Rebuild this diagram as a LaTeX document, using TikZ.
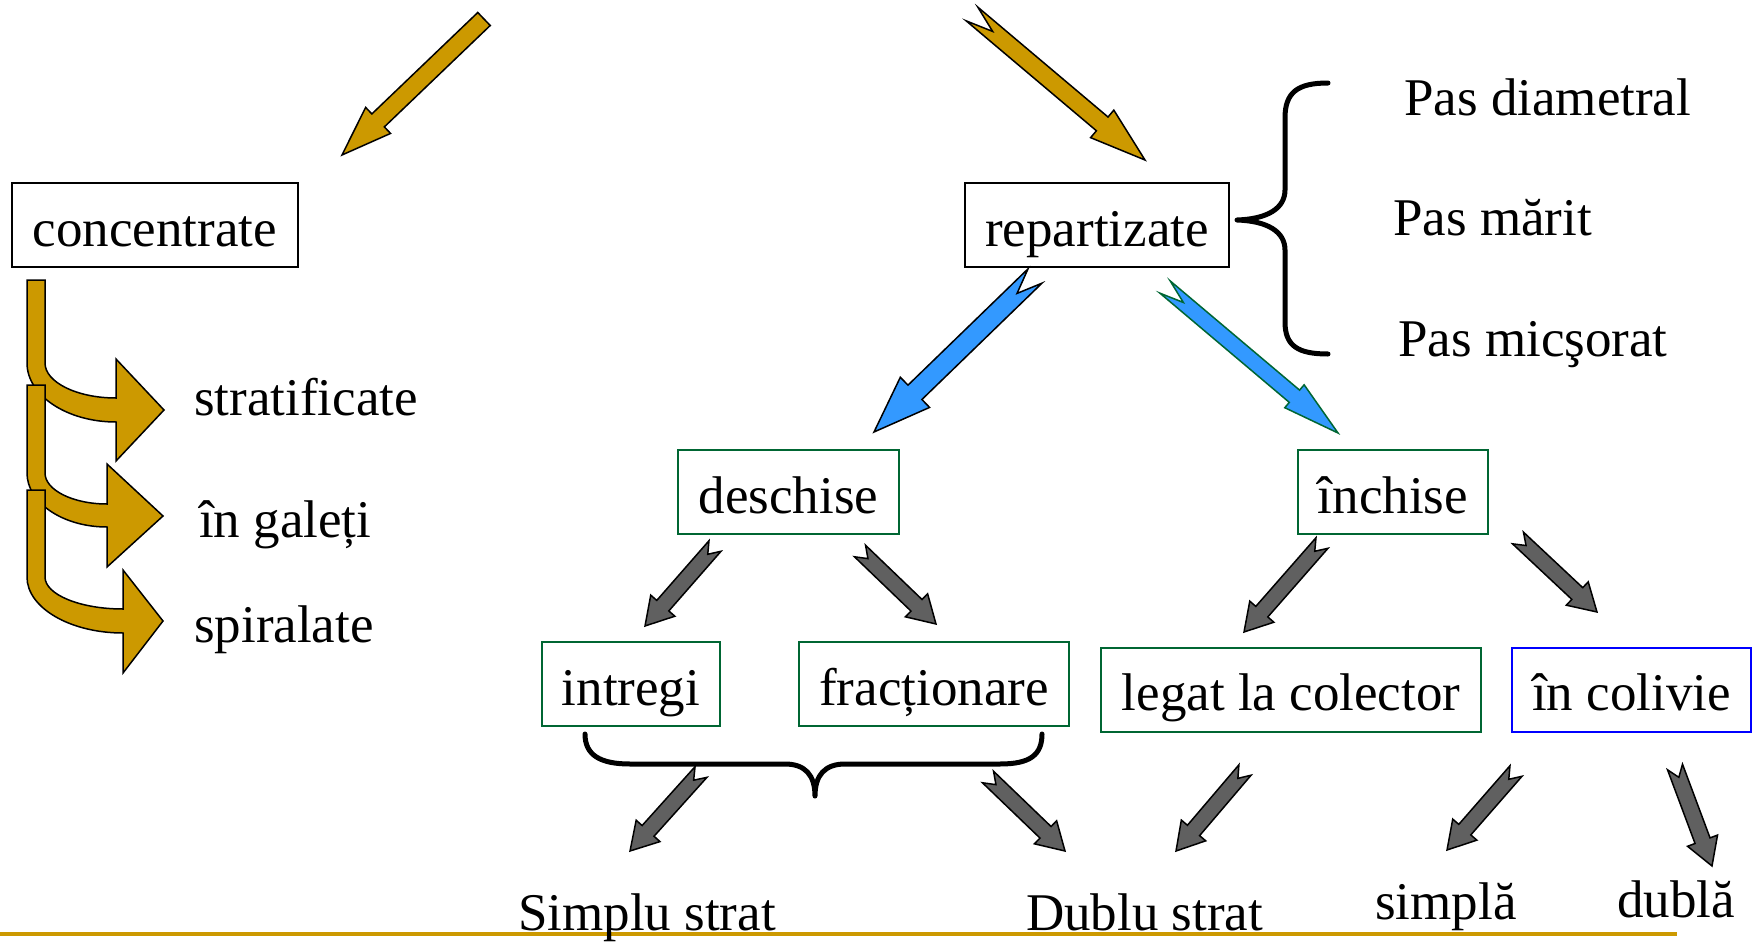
\documentclass[tikz,border=0pt]{standalone}
\usepackage{fontspec}
\setmainfont{Liberation Serif}
\usetikzlibrary{calc}
\definecolor{gold}{RGB}{204,153,0}
\definecolor{skyb}{RGB}{51,153,255}
\definecolor{darkg}{RGB}{96,96,96}
\definecolor{boxgreen}{RGB}{0,102,51}
\newcommand\barrow[3]{%
  \path let \p1=(#2), \p2=(#3), \n1={atan2(\y2-\y1,\x2-\x1)}, \n2={veclen(\x2-\x1,\y2-\y1)} in
    \pgfextra{\xdef\baang{\n1}\xdef\balen{\n2}\xdef\bax{\x1}\xdef\bay{\y1}};
  \begin{scope}[shift={(\bax,\bay)}, rotate=\baang]
    \draw[#1] (0,\baw) -- ({\balen-\bahl},\baw) -- ({\balen-\bahl},\bahw) -- (\balen,0)
      -- ({\balen-\bahl},-\bahw) -- ({\balen-\bahl},-\baw) -- (0,-\baw) -- (\ban,0) -- cycle;
  \end{scope}}
\newcommand\curvarrow[9]{%
  \draw[goldarrow] (27,#1) -- (45,#1) -- (45,#2)
    .. controls (45,{#2+0.55*(#3-#2)}) and ({#5-0.55*(#5-45)},#3) .. (#5,#3)
    -- (#5,#6) -- (#8,#9) -- (#5,#7) -- (#5,#4)
    .. controls ({#5-0.55*(#5-27)},#4) and (27,{#2+0.55*(#4-#2)}) .. (27,#2) -- cycle;}
\begin{document}
\begin{tikzpicture}[x=1pt,y=-1pt,
  bigfont/.style={font=\fontsize{53}{60}\selectfont},
  box/.style={draw, line width=2pt, inner sep=0pt, minimum height=84pt, text height=47pt, text depth=5pt, bigfont},
  gbox/.style={box, draw=boxgreen},
  lbl/.style={anchor=base west, inner sep=0pt, bigfont},
  goldarrow/.style={fill=gold, draw=black, line width=1.5pt, line join=miter},
  goldA/.style={goldarrow, /utils/exec={\def\baw{9}\def\bahw{18}\def\bahl{50}\def\ban{0}}},
  goldB/.style={goldarrow, /utils/exec={\def\baw{9}\def\bahw{18}\def\bahl{56}\def\ban{27}}},
  blueL/.style={fill=skyb, draw=black, line width=1.5pt, /utils/exec={\def\baw{10}\def\bahw{21}\def\bahl{57}\def\ban{25}}},
  blueR/.style={fill=skyb, draw=boxgreen, line width=1.5pt, /utils/exec={\def\baw{8}\def\bahw{15}\def\bahl{57}\def\ban{24}}},
  grayarr/.style={fill=darkg, draw=black, line width=1.5pt, /utils/exec={\def\baw{8}\def\bahw{16}\def\bahl{27}\def\ban{11}}},
  bracestyle/.style={draw=black, line width=5pt, line cap=round, line join=round}
]
\useasboundingbox (0,0) rectangle (1757,945);

% bottom rule
\coordinate (L0) at (0,934);
\coordinate (L1) at (1677,934);
\draw[gold, line width=4pt] (L0) -- (L1);

% boxes
\node[box, minimum width=286pt] (conc) at (155,225) {concentrate};
\node[box, minimum width=264pt] (rep) at (1097,225) {repartizate};
\node[gbox, minimum width=221pt] (desc) at (788.5,492) {deschise};
\node[gbox, minimum width=190pt] (inch) at (1393,492) {închise};
\node[gbox, minimum width=178pt] (intr) at (631,684) {intregi};
\node[gbox, minimum width=270pt] (frac) at (934,684) {fracționare};
\node[gbox, minimum width=380pt] (leg) at (1291,689.5) {legat la colector};
\node[box, draw=blue, minimum width=239pt] (col) at (1631.5,689.5) {în colivie};

% labels
\node[lbl] (pd) at (1404,115) {Pas diametral};
\node[lbl] (pm) at (1393,235) {Pas mărit};
\node[lbl] (pmc) at (1398,356) {Pas micşorat};
\node[lbl] (strat) at (194,415) {stratificate};
\node[lbl] (gal) at (199,537) {în galeți};
\node[lbl] (spir) at (194,642) {spiralate};
\node[lbl] (ss) at (518,930) {Simplu strat};
\node[lbl] (ds) at (1026,930) {Dublu strat};
\node[lbl] (sp) at (1375,919) {simplă};
\node[lbl] (db) at (1617,917) {dublă};

% curved gold arrows
\curvarrow{280}{363}{398}{422}{116}{359}{461}{164}{410}
\curvarrow{385}{473}{504}{527}{107}{464}{567}{163}{516}
\curvarrow{490}{577}{609}{633}{123}{570}{673}{163}{621}

% block arrow end points
\coordinate (gAt) at (484,19);   \coordinate (gAh) at (342,155);
\coordinate (gBt) at (972,14);   \coordinate (gBh) at (1145,160);
\coordinate (bLt) at (1035,276); \coordinate (bLh) at (874,432);
\coordinate (bRt) at (1165,287); \coordinate (bRh) at (1338,433);
\coordinate (k1t) at (715,546);  \coordinate (k1h) at (645,626);
\coordinate (k2t) at (860,551);  \coordinate (k2h) at (936,624);
\coordinate (k3t) at (1322,543); \coordinate (k3h) at (1244,632);
\coordinate (k4t) at (1518,538); \coordinate (k4h) at (1597,612);
\coordinate (k5t) at (701,772);  \coordinate (k5h) at (630,851);
\coordinate (k6t) at (988,777);  \coordinate (k6h) at (1065,851);
\coordinate (k7t) at (1245,770); \coordinate (k7h) at (1176,851);
\coordinate (k8t) at (1516,771); \coordinate (k8h) at (1447,850);
\coordinate (k9t) at (1675,767); \coordinate (k9h) at (1712,866);

\barrow{goldA}{gAt}{gAh}
\barrow{goldB}{gBt}{gBh}
\barrow{blueL}{bLt}{bLh}
\barrow{blueR}{bRt}{bRh}
\barrow{grayarr}{k1t}{k1h}
\barrow{grayarr}{k2t}{k2h}
\barrow{grayarr}{k3t}{k3h}
\barrow{grayarr}{k4t}{k4h}
\barrow{grayarr}{k5t}{k5h}
\barrow{grayarr}{k6t}{k6h}
\barrow{grayarr}{k7t}{k7h}
\barrow{grayarr}{k8t}{k8h}
\barrow{grayarr}{k9t}{k9h}

% braces
\draw[bracestyle] (1328,83) .. controls (1298,83) and (1285,92) .. (1285,118) -- (1285,190)
  .. controls (1285,208) and (1268,219) .. (1237,220)
  .. controls (1268,221) and (1285,232) .. (1285,250) -- (1285,322)
  .. controls (1285,346) and (1298,354) .. (1328,354);
\draw[bracestyle] (585,734) .. controls (585,755) and (600,764) .. (630,764) -- (785,764)
  .. controls (805,764) and (815,775) .. (815,796)
  .. controls (815,775) and (825,764) .. (845,764) -- (1000,764)
  .. controls (1030,764) and (1042,755) .. (1042,734);
\end{tikzpicture}
\end{document}
